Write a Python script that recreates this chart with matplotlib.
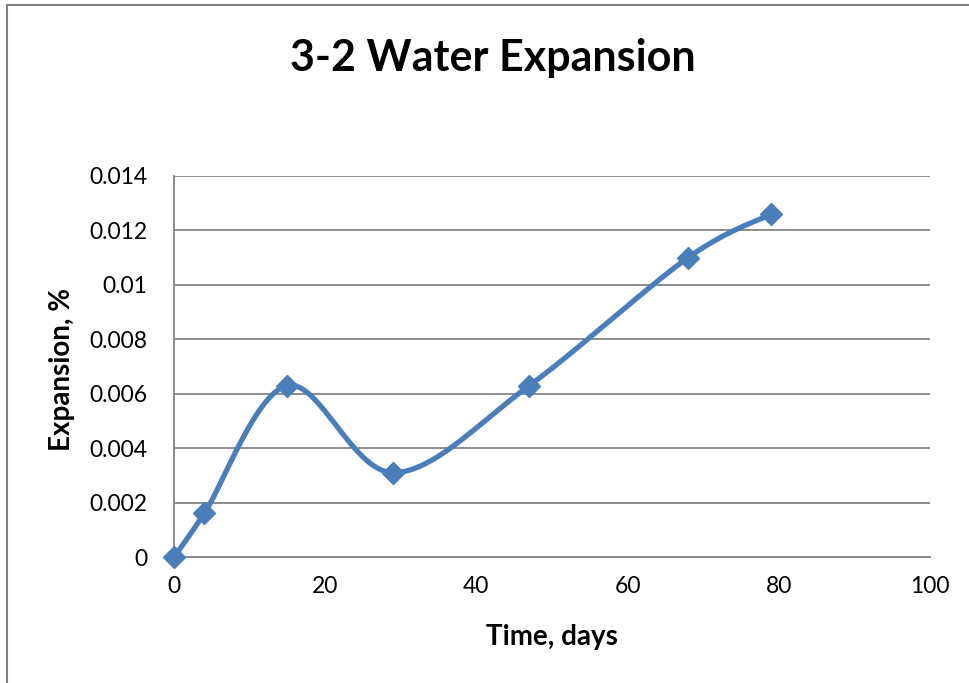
import numpy as np
import matplotlib
matplotlib.use("Agg")
import matplotlib.pyplot as plt
from matplotlib.lines import Line2D

plt.rcParams['font.family'] = ['Lato', 'DejaVu Sans']

days = [0, 4, 15, 29, 47, 68, 79]
expansion = [0.0, 0.0016, 0.0063, 0.0031, 0.0063, 0.0110, 0.0126]
x_ticks = [0, 20, 40, 60, 80, 100]
y_ticks = [0, 0.002, 0.004, 0.006, 0.008, 0.01, 0.012, 0.014]
y_tick_labels = ["0", "0.002", "0.004", "0.006", "0.008", "0.01", "0.012", "0.014"]
title = "3-2 Water Expansion"
x_label = "Time, days"
y_label = "Expansion, %"

blue = "#4a7ebb"
grid = "#8c8c8c"


def smooth(xs, ys, n=40):
    p = np.column_stack([xs, ys]).astype(float)
    pts = np.vstack([p[0], p, p[-1]])
    out = []
    for i in range(1, len(pts) - 2):
        p0, p1, p2, p3 = pts[i - 1], pts[i], pts[i + 1], pts[i + 2]
        c1 = p1 + (p2 - p0) / 6.0
        c2 = p2 - (p3 - p1) / 6.0
        t = np.linspace(0, 1, n)[:, None]
        seg = ((1 - t) ** 3) * p1 + 3 * ((1 - t) ** 2) * t * c1 + 3 * (1 - t) * t ** 2 * c2 + t ** 3 * p2
        out.append(seg if i == 1 else seg[1:])
    s = np.vstack(out)
    return s[:, 0], s[:, 1]


fig = plt.figure(figsize=(9.69, 6.83), dpi=100)
ax = fig.add_axes([174 / 969, 1 - 557 / 683, (930 - 174) / 969, (557 - 176) / 683])

sx, sy = smooth(days, expansion)
ax.plot(sx, sy, color=blue, lw=3.8, solid_capstyle='round', zorder=3)
ax.plot(days, expansion, linestyle='none', marker='D', markersize=11, color=blue,
        markeredgecolor=blue, zorder=4, clip_on=False)

ax.set_xlim(0, 100)
ax.set_ylim(0, 0.014)
ax.set_xticks(x_ticks)
ax.set_yticks(y_ticks)
ax.set_yticklabels(y_tick_labels)
ax.grid(axis='y', color=grid, lw=1.4)
ax.set_axisbelow(True)
for s in ['top', 'right']:
    ax.spines[s].set_visible(False)
for s in ['left', 'bottom']:
    ax.spines[s].set_color(grid)
    ax.spines[s].set_linewidth(1.4)
ax.tick_params(axis='both', length=0, labelsize=16.5, labelcolor='black')
ax.tick_params(axis='x', pad=14)
ax.tick_params(axis='y', pad=19)

ax.set_xlabel(x_label, fontsize=20, fontweight='bold', labelpad=19)
fig.text(62 / 969, 1 - 369 / 683, y_label, rotation=90, ha='center', va='center',
         fontsize=20, fontweight='bold')
fig.text(493 / 969, 1 - 58 / 683, title, ha='center', va='center', fontsize=31, fontweight='bold')

fig.add_artist(Line2D([7 / 969, 7 / 969], [0, 1 - 5 / 683], transform=fig.transFigure, color='#808080', lw=1.5))
fig.add_artist(Line2D([7 / 969, 1], [1 - 5 / 683, 1 - 5 / 683], transform=fig.transFigure, color='#808080', lw=1.5))

fig.savefig("out.png", dpi=100)
